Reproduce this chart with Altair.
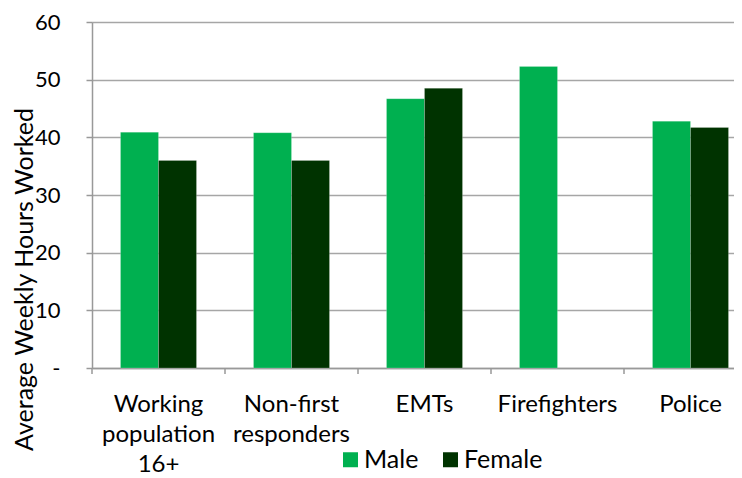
import altair as alt
import pandas as pd

categories = ["Working population 16+", "Non-first responders", "EMTs", "Firefighters", "Police"]
male_hours = [40.9, 40.8, 46.7, 52.3, 42.8]
female_hours = [36.0, 36.0, 48.5, None, 41.7]
series = ["Male", "Female"]
colors = ["#00B050", "#003300"]
y_ticks = [0, 10, 20, 30, 40, 50, 60]

rows = []
for c, m, f in zip(categories, male_hours, female_hours):
    rows.append({"cat": c, "sex": "Male", "hours": m})
    if f is not None:
        rows.append({"cat": c, "sex": "Female", "hours": f})
df = pd.DataFrame(rows)
cat_df = pd.DataFrame({"cat": categories})

FONT = "Lato"
H = 346
x_scale = alt.Scale(domain=categories, range=[0, 665], paddingInner=0, paddingOuter=0)
x_axis = alt.Axis(title=None, labelAngle=0, labelExpr="split(datum.label, ' ')",
                  labelLineHeight=30, labelFontSize=24, labelFont=FONT,
                  labelColor="#000000", labelPadding=24, ticks=False,
                  domainColor="#999999", domainWidth=1.5, labelBaseline="top")

bars = alt.Chart(df).mark_bar(stroke="#ffffff", strokeOpacity=0.4, strokeWidth=0.5).encode(
    x=alt.X("cat:N", sort=categories, scale=x_scale, axis=x_axis),
    xOffset=alt.XOffset("sex:N", sort=series,
                        scale=alt.Scale(domain=series, paddingInner=0, paddingOuter=0.75)),
    y=alt.Y("hours:Q", scale=alt.Scale(domain=[0, 60], nice=False),
            axis=alt.Axis(values=y_ticks, title="Average Weekly Hours Worked",
                          labelExpr="datum.value == 0 ? '-' : datum.label",
                          labelFontSize=22, labelFont=FONT, labelColor="#000000",
                          labelPadding=26, tickSize=6, tickColor="#999999", tickWidth=1.5,
                          domainColor="#999999", domainWidth=1.5,
                          gridColor="#a6a6a6", gridWidth=1.5,
                          titleFont=FONT, titleFontSize=25, titleFontWeight="normal",
                          titleColor="#000000", titleAngle=270, titleAlign="center",
                          titleBaseline="middle", titleX=-68, titleY=257)),
    color=alt.Color("sex:N", sort=series, scale=alt.Scale(domain=series, range=colors),
                    legend=alt.Legend(title=None, orient="none", direction="horizontal",
                                      legendX=246, legendY=425, symbolType="square",
                                      symbolSize=225, symbolStrokeWidth=0,
                                      labelFontSize=25, labelFont=FONT, labelColor="#000000",
                                      labelOffset=1, columnPadding=19, padding=0)),
)

ticks = alt.Chart(cat_df).mark_rule(color="#999999", strokeWidth=1.5).encode(
    x=alt.X("cat:N", sort=categories, scale=x_scale, bandPosition=0, axis=x_axis),
    y=alt.value(H),
    y2=alt.value(H + 6),
)

chart = alt.layer(bars, ticks).properties(
    width=642, height=H,
    autosize=alt.AutoSizeParams(type="none"),
    padding={"left": 84, "top": 14, "right": 0, "bottom": 110},
).configure_view(stroke=None).configure(background="#ffffff")

chart.save("out.html", embed_options={"renderer": "svg", "actions": False})
